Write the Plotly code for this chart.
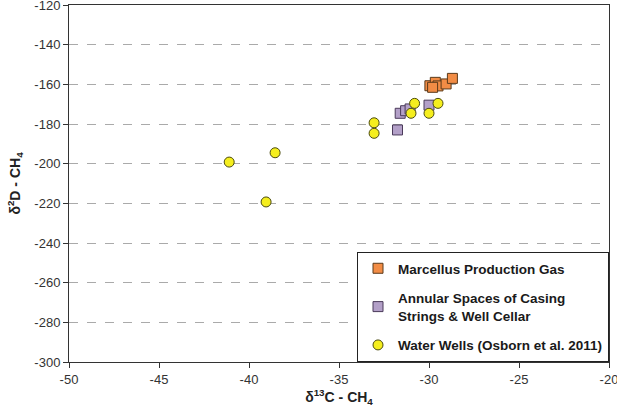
import plotly.graph_objects as go

# Marcellus Production Gas
mpg_x = [-29.95, -29.65, -29.5, -29.05, -28.7, -29.8]
mpg_y = [-160.7, -159.0, -160.8, -159.8, -157.0, -161.5]
# Annular Spaces of Casing Strings & Well Cellar
ann_x = [-31.6, -31.3, -31.05, -30.0, -31.75]
ann_y = [-174.6, -173.3, -172.4, -170.5, -183.0]
# Water Wells (Osborn et al. 2011)
ww_x = [-30.8, -31.0, -30.0, -29.5, -33.05, -33.05, -38.55, -39.05, -41.1]
ww_y = [-169.6, -174.6, -174.6, -169.6, -179.4, -184.7, -194.5, -219.3, -199.2]

x_ticks = [-50, -45, -40, -35, -30, -25, -20]
y_ticks = [-300, -280, -260, -240, -220, -200, -180, -160, -140, -120]

FONT = "Liberation Sans, Arial, sans-serif"

fig = go.Figure()
fig.add_trace(go.Scatter(
    x=mpg_x, y=mpg_y, mode="markers", name="Marcellus Production Gas",
    legendgroup="a",
    marker=dict(symbol="square", size=10, color="#F28C45",
                line=dict(color="#5a3a1a", width=1))))
fig.add_trace(go.Scatter(
    x=ann_x, y=ann_y, mode="markers",
    name="Annular Spaces of Casing<br>Strings & Well Cellar",
    legendgroup="b",
    marker=dict(symbol="square", size=10, color="#B3A0C8",
                line=dict(color="#4a3a5a", width=1))))
fig.add_trace(go.Scatter(
    x=ww_x, y=ww_y, mode="markers", name="Water Wells (Osborn et al. 2011)",
    legendgroup="c",
    marker=dict(symbol="circle", size=10, color="#F5EE1E",
                line=dict(color="#4a4a10", width=1))))

fig.update_layout(
    width=617, height=415,
    margin=dict(l=69, r=8, t=5, b=53),
    paper_bgcolor="white", plot_bgcolor="white",
    font=dict(family=FONT, size=13, color="#333333"),
    showlegend=True,
    legend=dict(
        x=1, y=0, xanchor="right", yanchor="bottom",
        bgcolor="white", bordercolor="#222222", borderwidth=1,
        font=dict(family=FONT, size=13.5, color="#1a1a1a", weight="bold"),
        traceorder="grouped", tracegroupgap=9,
        itemwidth=30,
    ),
)
fig.update_xaxes(
    range=[-50, -20], tickvals=x_ticks,
    ticktext=[str(v) for v in x_ticks],
    ticklabeloverflow="allow", automargin="bottom",
    showgrid=False, zeroline=False,
    showline=True, linecolor="#333333", linewidth=1, mirror=True,
    ticks="outside", ticklen=5, tickcolor="#333333",
    title=dict(text="δ<sup>13</sup>C - CH<sub>4</sub>",
               font=dict(family=FONT, size=14, color="#222222", weight="bold"),
               standoff=6),
)
fig.update_yaxes(
    range=[-300, -120], tickvals=y_ticks,
    ticktext=[str(v) for v in y_ticks],
    ticklabeloverflow="allow", automargin="left",
    showgrid=True, gridcolor="#aaaaaa", griddash="dash", gridwidth=1,
    zeroline=False,
    showline=True, linecolor="#333333", linewidth=1, mirror=True,
    ticks="outside", ticklen=5, tickcolor="#333333",
    title=dict(text="δ<sup>2</sup>D - CH<sub>4</sub>",
               font=dict(family=FONT, size=14, color="#222222", weight="bold"),
               standoff=10),
)

fig.write_html("out.html", config={"displayModeBar": False},
               post_script="document.body.style.margin='0';")
